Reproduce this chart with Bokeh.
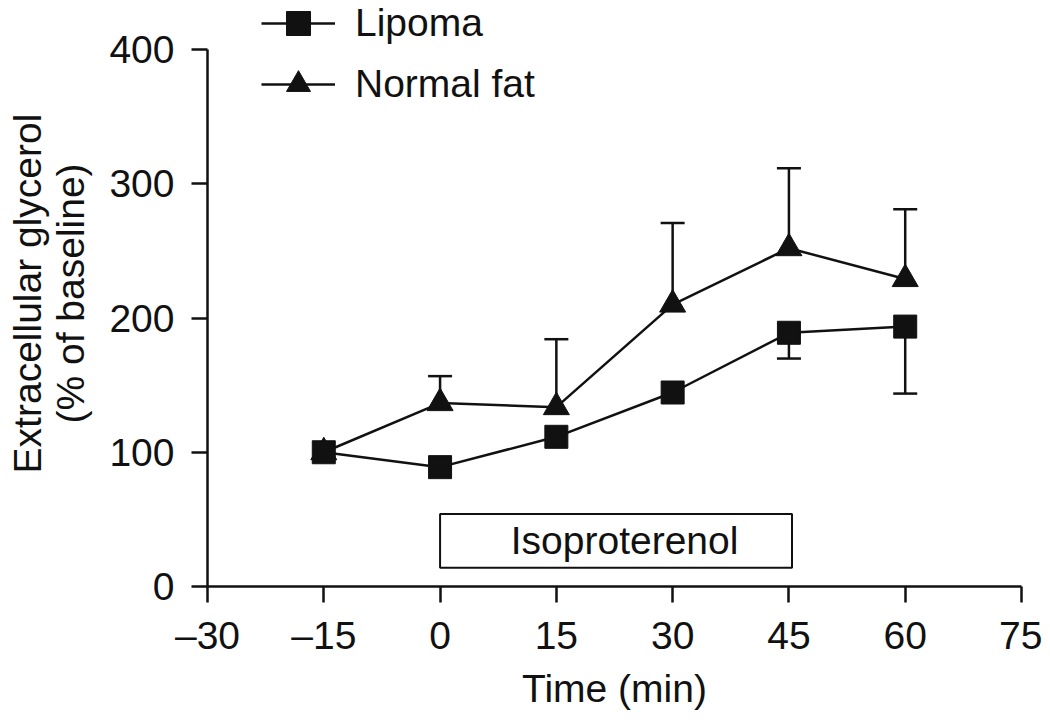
from bokeh.plotting import figure
from bokeh.models import (Range1d, FixedTicker, ColumnDataSource, Whisker, TeeHead,
                          BoxAnnotation, Label, Legend, LegendItem)
from bokeh.embed import file_html
from bokeh.resources import INLINE

# ---- data ----
time_min = [-15, 0, 15, 30, 45, 60]
lipoma = [100, 88.9, 111.5, 144.5, 189, 193.6]
lipoma_sem = [0, 0, 0, 0, 19.2, 49.9]          # drawn downward only
normal_fat = [100, 136.6, 133.6, 210, 252, 229]
normal_fat_sem = [0, 20.1, 50.6, 60.8, 59.5, 52]  # drawn upward only
x_ticks = [-30, -15, 0, 15, 30, 45, 60, 75]
y_ticks = [0, 100, 200, 300, 400]
x_title = "Time (min)"
y_title = "Extracellular glycerol\n(% of baseline)"
iso_label = "Isoproterenol"
iso_start, iso_end = 0, 45.4
iso_low, iso_high = 14, 54

FONT = "Liberation Sans"
FS = "39px"
INK = "#111111"
LW = 2.5

W, H = 1042, 712
p = figure(width=W, height=H, output_backend="svg", toolbar_location=None,
           x_range=Range1d(x_ticks[0], x_ticks[-1]), y_range=Range1d(0, 436.5),
           min_border_left=207, min_border_right=21, min_border_top=0,
           min_border_bottom=126)
p.outline_line_color = None
p.xgrid.visible = False
p.ygrid.visible = False
p.background_fill_color = "white"
p.border_fill_color = "white"

for ax, ticks in ((p.xaxis[0], x_ticks), (p.yaxis[0], y_ticks)):
    ax.ticker = FixedTicker(ticks=ticks)
    ax.bounds = (ticks[0], ticks[-1])
    ax.axis_line_width = LW
    ax.axis_line_color = INK
    ax.major_tick_line_width = LW
    ax.major_tick_line_color = INK
    ax.major_tick_in = 0
    ax.major_tick_out = 16
    ax.minor_tick_line_color = None
    ax.major_label_text_font = FONT
    ax.major_label_text_font_size = FS
    ax.major_label_text_color = INK
    ax.axis_label_text_font = FONT
    ax.axis_label_text_font_size = FS
    ax.axis_label_text_font_style = "normal"
    ax.axis_label_text_color = INK

xa = p.xaxis[0]
xa.major_label_overrides = {t: str(t).replace("-", "\u2013") for t in x_ticks if t < 0}
xa.axis_label = x_title
xa.major_label_standoff = 11
xa.axis_label_standoff = 7

ya = p.yaxis[0]
ya.axis_label = y_title
ya.axis_label_text_line_height = 1.0
ya.major_label_standoff = 17
ya.axis_label_standoff = 14

# error bars
lw_idx = [i for i, e in enumerate(lipoma_sem) if e > 0]
src_lw = ColumnDataSource(dict(
    base=[time_min[i] for i in lw_idx],
    upper=[lipoma[i] for i in lw_idx],
    lower=[lipoma[i] - lipoma_sem[i] for i in lw_idx]))
p.add_layout(Whisker(source=src_lw, base="base", upper="upper", lower="lower",
                     dimension="height", line_width=LW, line_color=INK,
                     upper_head=None,
                     lower_head=TeeHead(size=24, line_width=LW, line_color=INK)))

nw_idx = [i for i, e in enumerate(normal_fat_sem) if e > 0]
src_nw = ColumnDataSource(dict(
    base=[time_min[i] for i in nw_idx],
    upper=[normal_fat[i] + normal_fat_sem[i] for i in nw_idx],
    lower=[normal_fat[i] for i in nw_idx]))
p.add_layout(Whisker(source=src_nw, base="base", upper="upper", lower="lower",
                     dimension="height", line_width=LW, line_color=INK,
                     lower_head=None,
                     upper_head=TeeHead(size=24, line_width=LW, line_color=INK)))

# series
src_l = ColumnDataSource(dict(t=time_min, y=lipoma))
src_n = ColumnDataSource(dict(t=time_min, y=normal_fat))
rn_line = p.line("t", "y", source=src_n, line_width=LW, line_color=INK)
rl_line = p.line("t", "y", source=src_l, line_width=LW, line_color=INK)
rn_pts = p.scatter("t", "y", source=src_n, marker="triangle", size=26,
                   fill_color=INK, line_color=INK, line_width=1)
rl_pts = p.scatter("t", "y", source=src_l, marker="square", size=23,
                   fill_color=INK, line_color=INK, line_width=1)

# isoproterenol bar
p.add_layout(BoxAnnotation(left=iso_start, right=iso_end, bottom=iso_low, top=iso_high,
                           fill_color="white", fill_alpha=1, line_color=INK,
                           line_width=2, line_alpha=1))
p.add_layout(Label(x=23.8, y=(iso_low + iso_high) / 2, text=iso_label,
                   text_align="center", text_baseline="middle",
                   text_font=FONT, text_font_size=FS, text_color=INK))

legend = Legend(items=[LegendItem(label="Lipoma", renderers=[rl_line, rl_pts]),
                       LegendItem(label="Normal fat", renderers=[rn_line, rn_pts])],
                location=(54, 472), glyph_width=74, glyph_height=60, spacing=1,
                padding=0, margin=0, label_standoff=20,
                label_text_font=FONT, label_text_font_size=FS,
                label_text_color=INK,
                border_line_color=None, background_fill_alpha=0)
p.add_layout(legend)

open("out.html", "w").write(file_html(p, INLINE))
